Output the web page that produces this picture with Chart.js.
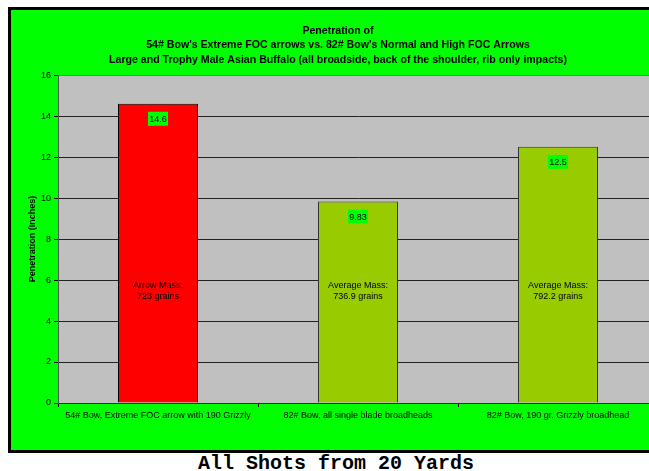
<!DOCTYPE html>
<html>
<head>
<meta charset="utf-8">
<script src="https://cdn.jsdelivr.net/npm/chart.js@4/dist/chart.umd.min.js"></script>
<style>
  body { margin: 0; background: #fff; overflow: hidden; width: 649px; height: 471px; position: relative; }
  #frame { position: absolute; left: 8px; top: 7px; width: 654px; height: 440px; border: 3px solid #000; background: #00ff00; }
  #caption { position: absolute; left: 3px; top: 454px; width: 666px; text-align: center;
    font: bold 20px "Liberation Mono", "Courier New", monospace; line-height: 20px; color: #000; }
</style>
</head>
<body>
<div id="frame"><canvas id="myChart" width="654" height="440"></canvas></div>
<div id="caption">All Shots from 20 Yards</div>
<script>
const categories = [
  '54# Bow, Extreme FOC arrow with 190 Grizzly',
  '82# Bow, all single blade broadheads',
  '82# Bow, 190 gr. Grizzly broadhead'
];
const penetration = [14.6, 9.83, 12.5];
const massLabels = [
  ['Arrow Mass:', '723 grains'],
  ['Average Mass:', '736.9 grains'],
  ['Average Mass:', '792.2 grains']
];
const barColors = ['#ff0000', '#99cc00', '#99cc00'];
const titleLines = [
  'Penetration of',
  "54# Bow's Extreme FOC arrows vs. 82# Bow's Normal and High FOC Arrows",
  'Large and Trophy Male Asian Buffalo (all broadside, back of the shoulder, rib only impacts)'
];

// grey plot background
const plotBg = {
  id: 'plotBg',
  beforeDraw(chart) {
    const a = chart.chartArea, ctx = chart.ctx;
    ctx.save();
    ctx.fillStyle = '#c0c0c0';
    ctx.fillRect(a.left, a.top, a.right - a.left, a.bottom - a.top);
    ctx.restore();
  }
};

// value boxes and mass text inside the bars
const barText = {
  id: 'barText',
  afterDatasetsDraw(chart) {
    const ctx = chart.ctx, y = chart.scales.y;
    const meta = chart.getDatasetMeta(0);
    ctx.save();
    ctx.font = '9px "Liberation Sans", Arial, sans-serif';
    ctx.textAlign = 'center';
    ctx.textBaseline = 'middle';
    meta.data.forEach((bar, i) => {
      const cy = bar.y + 15;
      ctx.fillStyle = '#00ff00';
      ctx.fillRect(bar.x - 10, cy - 7, 20, 14);
      ctx.fillStyle = '#000';
      ctx.fillText(String(penetration[i]), bar.x, cy + 0.5);
      const my = y.getPixelForValue(5.45);
      ctx.fillText(massLabels[i][0], bar.x, my - 5.5);
      ctx.fillText(massLabels[i][1], bar.x, my + 5.5);
    });
    ctx.restore();
  }
};

Chart.defaults.font.family = '"Liberation Sans", Arial, sans-serif';
Chart.defaults.color = '#000';

new Chart(document.getElementById('myChart'), {
  type: 'bar',
  data: {
    labels: categories,
    datasets: [{
      data: penetration,
      backgroundColor: barColors,
      borderColor: ['#000', '#333', '#333'],
      borderWidth: 1,
      barPercentage: 0.4,
      categoryPercentage: 1
    }]
  },
  options: {
    responsive: false,
    animation: false,
    layout: { padding: { left: 7, right: 7, top: 0, bottom: 0 } },
    plugins: {
      legend: { display: false },
      tooltip: { enabled: false },
      title: {
        display: true,
        text: titleLines,
        font: { size: 10.6, weight: 'bold', lineHeight: 1.37 },
        padding: { top: 13.5, bottom: 8 },
        color: '#000'
      }
    },
    scales: {
      x: {
        grid: { drawOnChartArea: false, drawTicks: true, tickLength: 4, color: '#000', offset: true },
        border: { color: '#333' },
        ticks: { font: { size: 9 }, padding: 3, maxRotation: 0, autoSkip: false },
        afterFit(scale) { scale.height = 47; }
      },
      y: {
        min: 0,
        max: 16,
        ticks: { stepSize: 2, font: { size: 9 }, padding: 3 },
        grid: { color: ['#222', '#222', '#222', '#222', '#222', '#222', '#222', '#222', '#777'], tickLength: 4, tickColor: '#000', lineWidth: 1 },
        border: { color: '#555', width: 1 },
        title: { display: true, text: 'Penetration (Inches)', font: { size: 9, weight: 'bold' }, padding: { top: 9, bottom: 0 } },
        afterFit(scale) { scale.width = 40; }
      }
    }
  },
  plugins: [plotBg, barText]
});
</script>
</body>
</html>
